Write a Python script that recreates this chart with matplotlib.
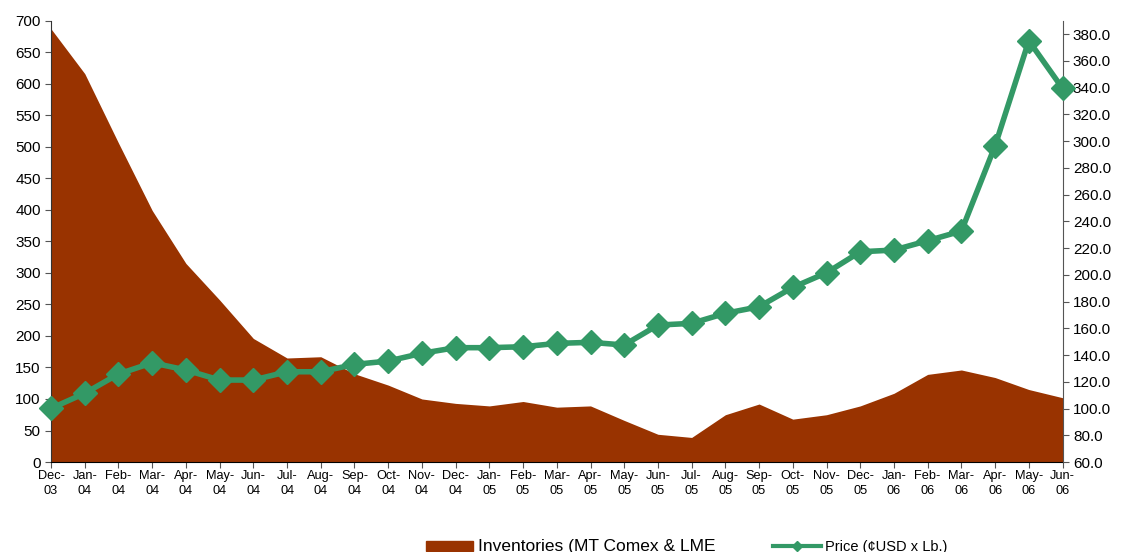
import matplotlib.pyplot as plt
from matplotlib.lines import Line2D
from matplotlib.patches import Patch
import numpy as np

plt.rcParams['font.family'] = ['Liberation Sans', 'DejaVu Sans']

# data
months = ["Dec-\n03", "Jan-\n04", "Feb-\n04", "Mar-\n04", "Apr-\n04", "May-\n04", "Jun-\n04",
          "Jul-\n04", "Aug-\n04", "Sep-\n04", "Oct-\n04", "Nov-\n04", "Dec-\n04", "Jan-\n05",
          "Feb-\n05", "Mar-\n05", "Apr-\n05", "May-\n05", "Jun-\n05", "Jul-\n05", "Aug-\n05",
          "Sep-\n05", "Oct-\n05", "Nov-\n05", "Dec-\n05", "Jan-\n06", "Feb-\n06", "Mar-\n06",
          "Apr-\n06", "May-\n06", "Jun-\n06"]
inventories = [687, 616, 506, 399, 315, 257, 196, 165, 167, 140, 122, 100, 93, 89, 96, 87, 89,
               66, 44, 39, 75, 92, 68, 75, 89, 109, 139, 146, 134, 115, 102]
price = [100.1, 111.4, 125.8, 134.2, 128.8, 121.3, 121.3, 127.5, 127.5, 133.0, 135.5, 141.3,
         145.5, 145.5, 146.2, 148.7, 149.5, 147.5, 162.4, 163.7, 171.2, 176.1, 190.6, 201.5,
         217.2, 218.5, 225.5, 232.7, 296.5, 375.0, 339.4]

brown = '#993300'
green = '#339966'

fig = plt.figure(figsize=(11.22, 5.52), dpi=100)
ax = fig.add_axes([0.0455, 0.163, 0.9015, 0.7995])
x = np.arange(len(months))

ax.fill_between(x, inventories, 0, color=brown, linewidth=0)
ax.set_xlim(0, len(months) - 1)
ax.set_ylim(0, 700)
ax.set_yticks(np.arange(0, 701, 50))
ax.set_xticks(x)
ax.set_xticklabels(months, fontsize=9.2, linespacing=1.3)
ax.tick_params(axis='y', labelsize=11, direction='out', length=4, color='#555555')
ax.tick_params(axis='x', direction='out', length=4, color='#555555', pad=2)
ax.spines['top'].set_visible(False)
ax.spines['right'].set_visible(False)
ax.spines['bottom'].set_color('black')
ax.spines['left'].set_color('#333333')

ax2 = ax.twinx()
ax2.plot(x, price, color=green, linewidth=4, marker='D', markersize=12.5,
         clip_on=False, zorder=5)
ax2.set_ylim(60, 390)
ax2.set_yticks(np.arange(60, 381, 20))
ax2.set_yticklabels([f"{v:.1f}" for v in np.arange(60, 381, 20)])
ax2.tick_params(axis='y', labelsize=11, direction='out', length=4, color='#555555')
for s in ['top', 'left', 'bottom']:
    ax2.spines[s].set_visible(False)
ax2.spines['right'].set_color('#555555')
ax.set_zorder(ax2.get_zorder() - 1)
ax2.patch.set_visible(False)

handles = [Patch(color=brown), Line2D([], [], color=green, linewidth=3, marker='D', markersize=5)]
leg = fig.legend(handles, ["Inventories (MT Comex & LME", "Price (\u00a2USD x Lb.)"],
                 loc='center', bbox_to_anchor=(0.612, 0.01), ncol=2, frameon=False,
                 handlelength=3.4, columnspacing=4.2, handletextpad=0.3)
leg.get_texts()[0].set_fontsize(12.5)
leg.get_texts()[1].set_fontsize(10.5)

fig.savefig('out.png', dpi=100)
